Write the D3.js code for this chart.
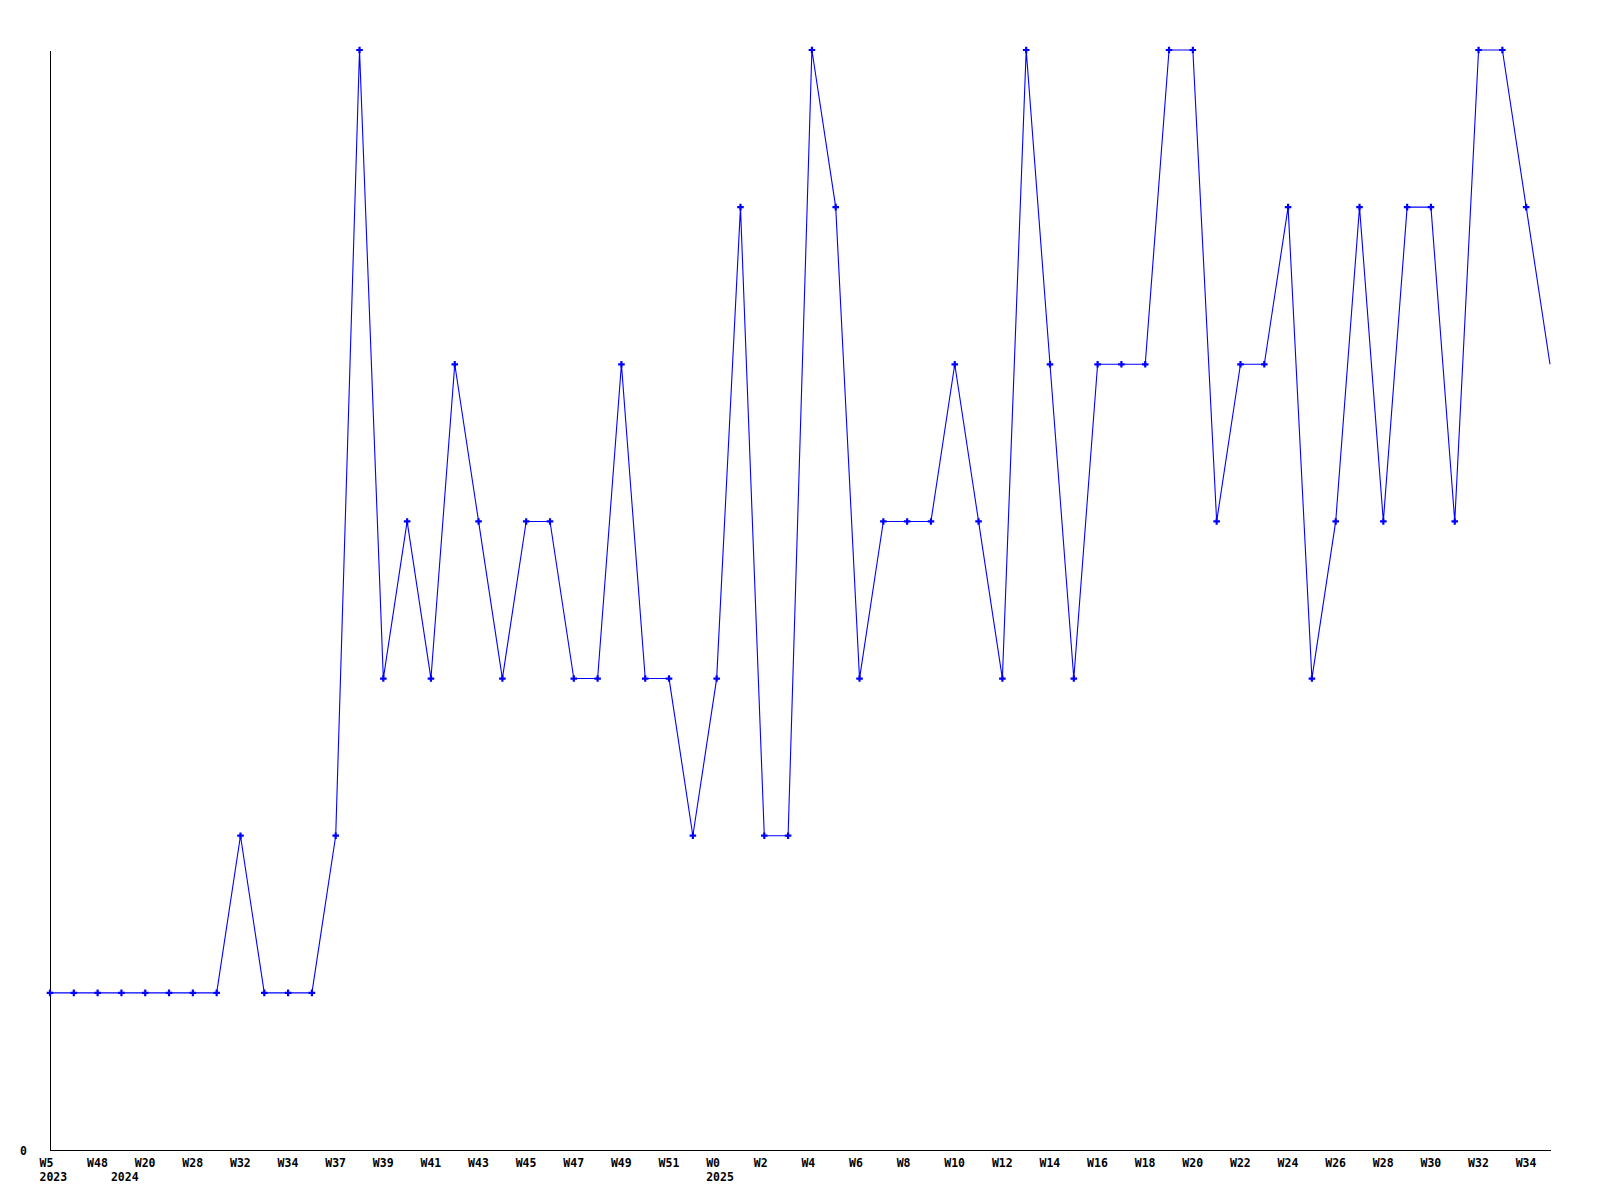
<!DOCTYPE html>
<html>
<head>
<meta charset="utf-8">
<script src="https://cdn.jsdelivr.net/npm/d3@7"></script>
<style>
  html, body { margin: 0; padding: 0; background: #fff; }
  svg text { font-family: "DejaVu Sans Mono", monospace; font-weight: bold; font-size: 11.5px; fill: #000; }
</style>
</head>
<body>
<svg id="chart" width="1600" height="1200"></svg>
<script>
// Weekly values (one per point)
const values = [1,1,1,1,1,1,1,1,2,1,1,1,2,7,3,4,3,5,4,3,4,4,3,3,5,3,3,2,3,6,2,2,7,6,3,4,4,4,5,4,3,7,5,3,5,5,5,7,7,4,5,5,6,3,4,6,4,6,6,4,7,7,6,5];
// Tick labels on every second point
const tickIndexes = [0,2,4,6,8,10,12,14,16,18,20,22,24,26,28,30,32,34,36,38,40,42,44,46,48,50,52,54,56,58,60,62];
const weekLabels = ["W5","W48","W20","W28","W32","W34","W37","W39","W41","W43","W45","W47","W49","W51","W0","W2","W4","W6","W8","W10","W12","W14","W16","W18","W20","W22","W24","W26","W28","W30","W32","W34"];
const yearIndexes = [0, 3, 28];
const yearLabels = ["2023", "2024", "2025"];
const yTicks = [0];

const svg = d3.select("#chart");
const mLeft = 50, mRight = 1550, mTop = 50, mBottom = 1150;

const x = d3.scaleLinear().domain([0, values.length - 1]).range([mLeft, mRight]);
const y = d3.scaleLinear().domain([0, 7]).range([mBottom, mTop]);

// X axis (week labels)
const weekMap = new Map(tickIndexes.map((t, i) => [t, weekLabels[i]]));
const xAxis = d3.axisBottom(x).tickValues(tickIndexes).tickSize(0).tickSizeOuter(0)
  .tickFormat(d => weekMap.get(d));
const gx = svg.append("g").attr("transform", `translate(0,${mBottom})`).call(xAxis);
gx.select(".domain").attr("stroke", "#000").attr("stroke-width", 1).attr("shape-rendering", "crispEdges");
gx.selectAll("text").attr("text-anchor", "start").attr("dx", -11).attr("y", 17).attr("dy", 0)
  .style("font-family", "DejaVu Sans Mono").style("font-weight", "bold").style("font-size", "11.5px");

// Year labels
const yearMap = new Map(yearIndexes.map((t, i) => [t, yearLabels[i]]));
const yearAxis = d3.axisBottom(x).tickValues(yearIndexes).tickSize(0).tickSizeOuter(0)
  .tickFormat(d => yearMap.get(d));
const gyear = svg.append("g").attr("transform", `translate(0,${mBottom})`).call(yearAxis);
gyear.select(".domain").remove();
gyear.selectAll("text").attr("text-anchor", "start").attr("dx", -11).attr("y", 31).attr("dy", 0)
  .style("font-family", "DejaVu Sans Mono").style("font-weight", "bold").style("font-size", "11.5px");

// Y axis
const yAxis = d3.axisLeft(y).tickValues(yTicks).tickSize(0).tickSizeOuter(0).tickFormat(d3.format("d"));
const gy = svg.append("g").attr("transform", `translate(${mLeft},0)`).call(yAxis);
gy.select(".domain").attr("stroke", "#000").attr("stroke-width", 1).attr("shape-rendering", "crispEdges");
gy.selectAll("text").attr("text-anchor", "start").attr("x", -30).attr("dy", 4)
  .style("font-family", "DejaVu Sans Mono").style("font-weight", "bold").style("font-size", "11.5px");

// Line
const line = d3.line().x((d, i) => x(i)).y(d => y(d));
svg.append("path").datum(values)
  .attr("fill", "none").attr("stroke", "#0000ff").attr("stroke-width", 1.1)
  .attr("d", line);

// Markers (last, partial week has none)
const cross = d3.symbol().type(d3.symbolCross).size(24);
svg.append("g").selectAll("path").data(values.slice(0, -1)).join("path")
  .attr("transform", (d, i) => `translate(${x(i)},${y(d)})`)
  .attr("d", cross)
  .attr("fill", "#0000ff");
</script>
</body>
</html>
